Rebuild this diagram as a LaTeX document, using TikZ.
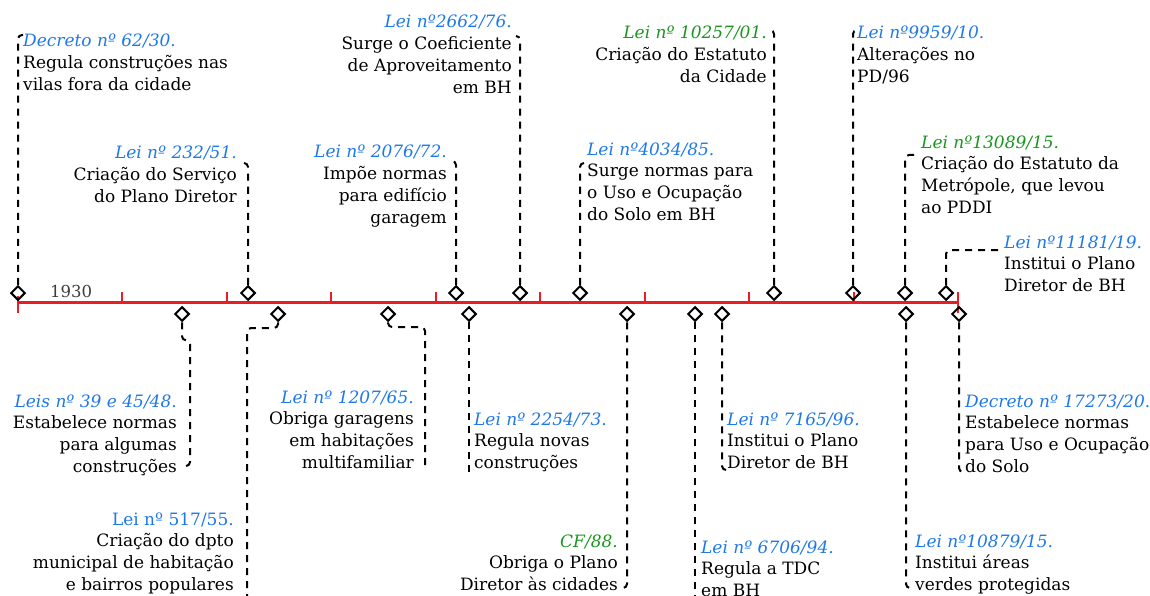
\documentclass[tikz,border=0pt]{standalone}
\usepackage{fontspec}
\setmainfont{DejaVu Serif}
\usetikzlibrary{shapes.geometric}
\definecolor{lblue}{RGB}{30,120,230}
\definecolor{lgreen}{RGB}{25,150,30}
\definecolor{axred}{RGB}{232,30,36}
\definecolor{yeargray}{RGB}{60,60,60}
\newcommand{\lawb}[1]{{\color{lblue}\itshape #1}}
\newcommand{\lawg}[1]{{\color{lgreen}\itshape #1}}
\tikzset{
 txt/.style={inner sep=0pt, font=\fontsize{17}{21.7}\selectfont},
 lt/.style={txt, anchor=base west, align=left},
 rt/.style={txt, anchor=base east, align=right},
 dia/.style={draw=black, line width=2pt, shape=diamond, minimum width=14.5pt, minimum height=14.5pt, inner sep=0pt},
 conn/.style={draw=black, line width=2pt, dash pattern=on 7pt off 6pt, rounded corners=4pt},
 axisline/.style={draw=axred, line width=3pt},
 tck/.style={draw=axred, line width=2pt},
}
\begin{document}
\begin{tikzpicture}[x=1pt,y=-1pt]
\useasboundingbox (0,0) rectangle (1150,596);
% axis
\coordinate (ax0) at (18,302);
\coordinate (ax1) at (958,302);
\draw[axisline] (ax0) -- (ax1);
\foreach \k in {1,...,8}{\draw[tck] (18+\k*104.44,302) -- (18+\k*104.44,292);}
\draw[tck] (18,296) -- (18,313);
\draw[tck] (958,292) -- (958,313);
\node[txt, anchor=base west, text=yeargray, font=\fontsize{16.5}{20}\selectfont] (year) at (50,297) {1930};
% diamonds above
\node[dia] (d1) at (18,293) {};
\node[dia] (d2) at (248,293) {};
\node[dia] (d3) at (456,293) {};
\node[dia] (d4) at (520,293) {};
\node[dia] (d5) at (580,293) {};
\node[dia] (d6) at (774,293) {};
\node[dia] (d7) at (853,293) {};
\node[dia] (d8) at (905,293) {};
\node[dia] (d9) at (946,293) {};
% diamonds below
\node[dia] (d10) at (182,314) {};
\node[dia] (d11) at (278,314) {};
\node[dia] (d12) at (388,314) {};
\node[dia] (d13) at (469,314) {};
\node[dia] (d14) at (627,314) {};
\node[dia] (d15) at (695,314) {};
\node[dia] (d16) at (722,314) {};
\node[dia] (d17) at (906,314) {};
\node[dia] (d18) at (959,314) {};
% texts above (base = baseline of last line)
\node[lt] (t1) at (23,90.4) {\lawb{Decreto nº 62/30.}\\Regula construções nas\\vilas fora da cidade};
\node[rt] (t2) at (237,202.4) {\lawb{Lei nº 232/51.}\\Criação do Serviço\\do Plano Diretor};
\node[rt] (t3) at (447,223.1) {\lawb{Lei nº 2076/72.}\\Impõe normas\\para edifício\\garagem};
\node[rt] (t4) at (512,93.1) {\lawb{Lei nº2662/76.}\\Surge o Coeficiente\\de Aproveitamento\\em BH};
\node[lt] (t5) at (587,220.1) {\lawb{Lei nº4034/85.}\\Surge normas para\\o Uso e Ocupação\\do Solo em BH};
\node[rt] (t6) at (767,82.4) {\lawg{Lei nº 10257/01.}\\Criação do Estatuto\\da Cidade};
\node[lt] (t7) at (857,82.4) {\lawb{Lei nº9959/10.}\\Alterações no\\PD/96};
\node[lt] (t8) at (921,213.1) {\lawg{Lei nº13089/15.}\\Criação do Estatuto da\\Metrópole, que levou\\ao PDDI};
\node[lt] (t9) at (1004,291.4) {\lawb{Lei nº11181/19.}\\Institui o Plano\\Diretor de BH};
% texts below
\node[rt] (t10) at (177,472.1) {\lawb{Leis nº 39 e 45/48.}\\Estabelece normas\\para algumas\\construções};
\node[rt] (t11) at (234,590.1) {{\color{lblue}Lei nº 517/55.}\\Criação do dpto\\municipal de habitação\\e bairros populares};
\node[rt] (t12) at (414,468.1) {\lawb{Lei nº 1207/65.}\\Obriga garagens\\em habitações\\multifamiliar};
\node[lt] (t13) at (474,468.4) {\lawb{Lei nº 2254/73.}\\Regula novas\\construções};
\node[rt] (t14) at (618,590.4) {\lawg{CF/88.}\\Obriga o Plano\\Diretor às cidades};
\node[lt] (t15) at (701,596.4) {\lawb{Lei nº 6706/94.}\\Regula a TDC\\em BH};
\node[lt] (t16) at (727,468.4) {\lawb{Lei nº 7165/96.}\\Institui o Plano\\Diretor de BH};
\node[lt] (t17) at (915,590.4) {\lawb{Lei nº10879/15.}\\Institui áreas\\verdes protegidas};
\node[lt] (t18) at (965,472.1) {\lawb{Decreto nº 17273/20.}\\Estabelece normas\\para Uso e Ocupação\\do Solo};
% connector end points
\coordinate (e1) at (23,35);
\coordinate (e2) at (244,163);
\coordinate (e3) at (452,161);
\coordinate (e4) at (516,36);
\coordinate (e5) at (584,163);
\coordinate (e6) at (770,30);
\coordinate (e7) at (857,30);
\coordinate (e8) at (916,155);
\coordinate (e9) at (999,250);
\coordinate (k10) at (190,466);
\coordinate (e10) at (184,466);
\coordinate (k11) at (247,328);
\coordinate (e11) at (247,600);
\coordinate (k12) at (425,327);
\coordinate (e12) at (425,468);
\coordinate (e13) at (469,472);
\coordinate (e14) at (623,588);
\coordinate (e15) at (695,600);
\coordinate (e16) at (726,470);
\coordinate (e17) at (910,588);
\coordinate (e18) at (963,472);
% connectors
\draw[conn] (d1.north) |- (e1);
\draw[conn] (d2.north) |- (e2);
\draw[conn] (d3.north) |- (e3);
\draw[conn] (d4.north) |- (e4);
\draw[conn] (d5.north) |- (e5);
\draw[conn] (d6.north) |- (e6);
\draw[conn] (d7.north) |- (e7);
\draw[conn] (d8.north) |- (e8);
\draw[conn] (d9.north) |- (e9);
\draw[conn] (d10.south) -- ++(0,18) -| (k10) -- (e10);
\draw[conn] (d11.south) |- (k11) -- (e11);
\draw[conn] (d12.south) |- (k12) -- (e12);
\draw[conn] (d13.south) -- (e13);
\draw[conn] (d14.south) |- (e14);
\draw[conn] (d15.south) -- (e15);
\draw[conn] (d16.south) |- (e16);
\draw[conn] (d17.south) |- (e17);
\draw[conn] (d18.south) |- (e18);
\end{tikzpicture}
\end{document}
